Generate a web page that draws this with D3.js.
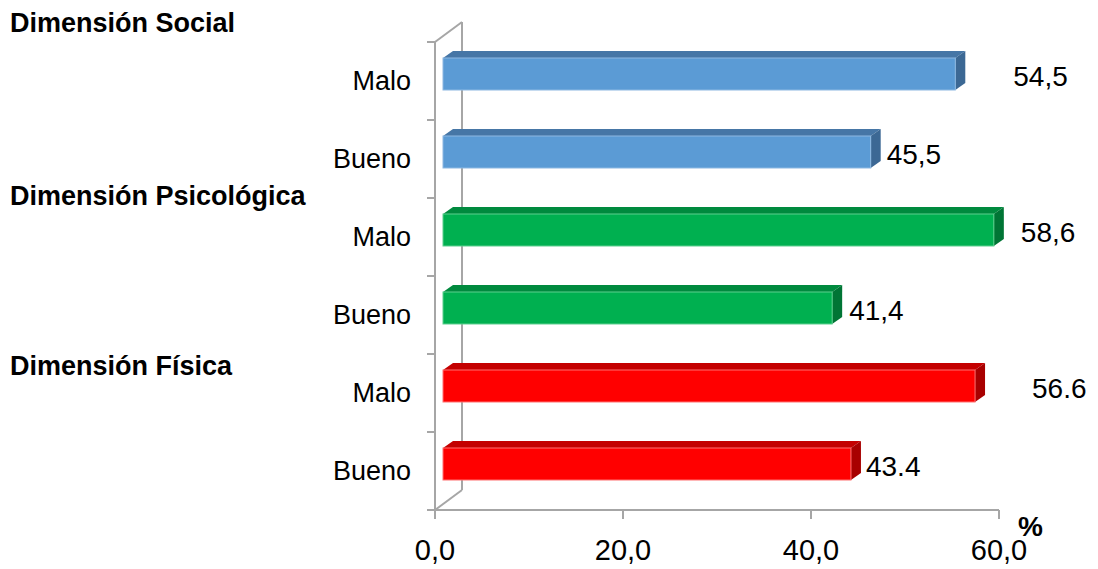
<!DOCTYPE html>
<html>
<head>
<meta charset="utf-8">
<script src="https://cdn.jsdelivr.net/npm/d3@7"></script>
<style>
  html, body { margin: 0; padding: 0; background: #fff; }
  svg { display: block; font-family: "Liberation Sans", Arial, sans-serif; }
</style>
</head>
<body>
<svg id="chart" width="1098" height="569"></svg>
<script>
// ---- data ----
const categories = ["Malo", "Bueno", "Malo", "Bueno", "Malo", "Bueno"];
const groupNames = ["Dimensión Social", "Dimensión Psicológica", "Dimensión Física"];
const groupOfRow = [0, 0, 1, 1, 2, 2];
const values = [54.5, 45.5, 58.6, 41.4, 56.6, 43.4];
const valueLabels = ["54,5", "45,5", "58,6", "41,4", "56.6", "43.4"];
const tickValues = [0, 20, 40, 60];
const tickLabels = ["0,0", "20,0", "40,0", "60,0"];
const axisUnit = "%";

// ---- styles / layout ----
const palette = [
  { front: "#5b9bd5", top: "#4676a6", side: "#3c6894", edge: "#8db8e2" },
  { front: "#00b050", top: "#008a3e", side: "#007535", edge: "#5ccf8e" },
  { front: "#ff0000", top: "#c40000", side: "#a80000", edge: "#ff7070" }
];
const wallColor = "#a6a6a6";
const wallDx = 27, wallDy = -20;   // back wall depth offset
const barDx = 10, barDy = -7;      // bar depth
const barShift = 8;                // front face shift from axis
const barH = 32;
const labelGap = [48, 6, 17, 7, 47, 5];
const titleBaseline = [32, 205, 375];

const svg = d3.select("#chart");

const x = d3.scaleLinear().domain([0, 60]).range([435, 999]);
const y = d3.scaleBand().domain(d3.range(categories.length)).range([42, 510]).padding(0);

// ---- back wall / axes ----
const g = svg.append("g");
const x0 = x(0), yTop = y.range()[0], yBot = y.range()[1];
const wallPath = [
  [[x0, yTop], [x0, yBot]],
  [[x0 + wallDx, yTop + wallDy], [x0 + wallDx, yBot + wallDy]],
  [[x0, yTop], [x0 + wallDx, yTop + wallDy]],
  [[x0, yBot], [x0 + wallDx, yBot + wallDy]],
  [[x0, yBot], [x(60), yBot]]
];
g.selectAll("line.wall").data(wallPath).join("line")
  .attr("class", "wall")
  .attr("x1", d => d[0][0]).attr("y1", d => d[0][1])
  .attr("x2", d => d[1][0]).attr("y2", d => d[1][1])
  .attr("stroke", wallColor).attr("stroke-width", 2);

// left ticks at band boundaries
const boundaries = d3.range(categories.length + 1).map(i => i < categories.length ? y(i) : yBot);
g.selectAll("line.ytick").data(boundaries).join("line")
  .attr("class", "ytick")
  .attr("x1", x0 - 8).attr("x2", x0)
  .attr("y1", d => d).attr("y2", d => d)
  .attr("stroke", wallColor).attr("stroke-width", 2);

// bottom ticks
g.selectAll("line.xtick").data(tickValues).join("line")
  .attr("class", "xtick")
  .attr("x1", d => x(d)).attr("x2", d => x(d))
  .attr("y1", yBot).attr("y2", yBot + 9)
  .attr("stroke", wallColor).attr("stroke-width", 2);

g.selectAll("text.xlab").data(tickValues).join("text")
  .attr("class", "xlab")
  .attr("x", d => x(d)).attr("y", 560)
  .attr("text-anchor", "middle")
  .attr("font-size", 29)
  .attr("fill", "#000")
  .text((d, i) => tickLabels[i]);

svg.append("text")
  .attr("x", 1018).attr("y", 536)
  .attr("font-size", 28).attr("font-weight", "bold")
  .attr("fill", "#000")
  .text(axisUnit);

// ---- bars ----
const bars = svg.append("g").selectAll("g.bar").data(values).join("g").attr("class", "bar");
bars.each(function (v, i) {
  const c = palette[groupOfRow[i]];
  const xa = x(0) + barShift, xb = x(v) + barShift;
  const yt = y(i) + y.bandwidth() / 2 - 23, yb = yt + barH;
  const sel = d3.select(this);
  sel.append("polygon")
    .attr("points", [[xa, yt], [xa + barDx, yt + barDy], [xb + barDx, yt + barDy], [xb, yt]].join(" "))
    .attr("fill", c.top);
  sel.append("polygon")
    .attr("points", [[xb, yt], [xb + barDx, yt + barDy], [xb + barDx, yb + barDy], [xb, yb]].join(" "))
    .attr("fill", c.side);
  sel.append("rect")
    .attr("x", xa).attr("y", yt)
    .attr("width", xb - xa).attr("height", barH)
    .attr("fill", c.front)
    .attr("stroke", c.edge).attr("stroke-width", 1);
});

// value labels
svg.append("g").selectAll("text").data(values).join("text")
  .attr("x", (v, i) => x(v) + barShift + barDx + labelGap[i])
  .attr("y", (v, i) => y(i) + y.bandwidth() / 2 + 5)
  .attr("font-size", 28)
  .attr("fill", "#000")
  .text((v, i) => valueLabels[i]);

// category labels
svg.append("g").selectAll("text").data(categories).join("text")
  .attr("x", 411)
  .attr("y", (d, i) => y(i) + y.bandwidth() / 2 + 9)
  .attr("text-anchor", "end")
  .attr("font-size", 27)
  .attr("fill", "#000")
  .text(d => d);

// group titles
svg.append("g").selectAll("text").data(groupNames).join("text")
  .attr("x", 10)
  .attr("y", (d, i) => titleBaseline[i])
  .attr("font-size", 27)
  .attr("font-weight", "bold")
  .attr("fill", "#000")
  .text(d => d);
</script>
</body>
</html>
